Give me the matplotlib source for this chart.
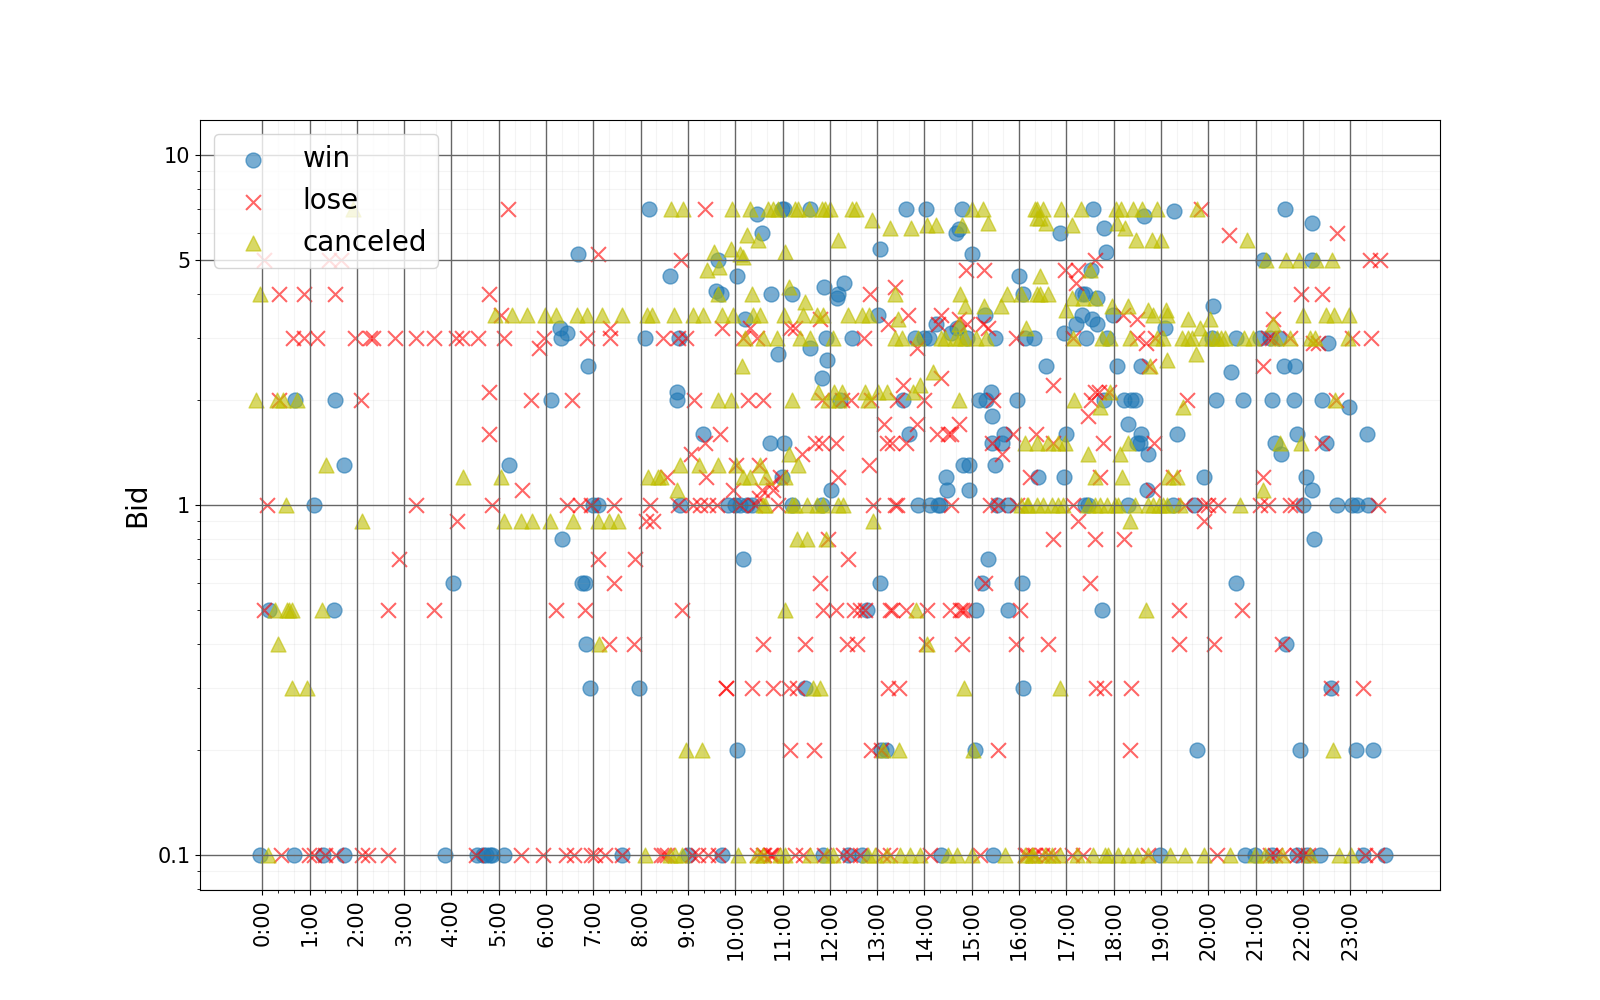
"""Bids over the hours of a day, split by auction outcome."""

import matplotlib
matplotlib.use("Agg")
import matplotlib.pyplot as plt
from matplotlib.ticker import NullFormatter

# Each *_bids entry is a bid level, each *_hours entry the hours of day seen at that level
win_bids = [7, 6.9, 6.8, 6.7, 6.4, 6.2, 6.15, 6.0, 5.4, 5.3, 5.2, 5.0, 4.7, 4.5, 4.3, 4.2, 4.08, 4.0, 3.9, 3.7,
            3.5, 3.4, 3.3, 3.2, 3.1, 3.0, 2.9, 2.8, 2.7, 2.6, 2.5, 2.4, 2.3, 2.1, 2.0, 1.9, 1.8, 1.7, 1.6, 1.5, 1.4,
            1.3, 1.2, 1.1, 1.0, 0.8, 0.7, 0.6, 0.5, 0.4, 0.3, 0.2, 0.1]
win_hours = [
    [8.18, 10.98, 11.02, 11.57, 13.6, 14.03, 14.8, 17.57, 21.63],
    [19.28],
    [10.45],
    [18.65],
    [22.2],
    [17.8],
    [14.73],
    [10.57, 14.67, 16.87],
    [13.05],
    [17.84],
    [15.0, 6.68],
    [9.64, 21.16, 22.19],
    [17.53],
    [8.63, 10.04, 16.0],
    [12.3],
    [11.88],
    [9.59],
    [9.7, 10.76, 11.2, 12.18, 16.09, 17.33, 17.4],
    [12.16, 17.64],
    [20.1],
    [13.02, 15.28, 17.34, 17.98],
    [10.21, 17.55],
    [14.24, 17.2, 17.65],
    [6.29, 14.68, 19.08],
    [6.45, 14.57, 16.96],
    [6.32, 8.09, 8.82, 11.92, 12.46, 13.8, 13.99, 14.1, 14.9, 15.49, 16.13, 16.31, 17.42, 17.85, 20.08, 20.58,
     21.09, 21.3, 21.5],
    [22.54],
    [11.57],
    [10.91],
    [11.94],
    [6.89, 16.58, 18.07, 18.57, 21.61, 21.84],
    [20.48],
    [11.83],
    [8.77, 15.41],
    [0.69, 1.54, 6.11, 8.77, 12.21, 13.55, 15.16, 15.31, 15.95, 17.8, 18.22, 18.36, 18.46, 20.17, 20.74,
     21.35, 21.82, 22.41],
    [22.98],
    [15.43],
    [18.31],
    [9.32, 13.68, 15.69, 17.0, 18.58, 19.33, 21.88, 23.35],
    [10.74, 11.02, 15.42, 15.65, 18.5, 18.56, 21.41, 22.49],
    [18.73, 21.54],
    [1.73, 5.22, 14.82, 14.95, 15.5],
    [10.98, 14.46, 16.41, 16.96, 19.92, 22.07],
    [12.03, 14.48, 14.95, 18.7, 22.2],
    [1.1, 7.0, 7.1, 8.83, 9.85, 9.99, 10.1, 10.24, 10.35, 11.2, 11.83, 13.87, 14.12, 14.29, 14.33, 15.53, 15.77,
     17.39, 17.46, 18.31, 19.26, 19.7, 22.0, 22.73, 23.03, 23.14, 23.38],
    [6.34, 22.24],
    [10.16, 15.35],
    [4.04, 6.77, 6.83, 13.05, 15.22, 16.07, 20.59],
    [0.14, 1.52, 12.79, 15.09, 15.77, 17.76],
    [6.85, 21.64],
    [6.93, 7.97, 11.47, 16.09, 22.6],
    [10.04, 13.09, 13.19, 15.07, 19.77, 21.95, 23.12, 23.49],
    [-0.04, 0.66, 1.29, 1.73, 3.87, 4.53, 4.67, 4.74, 4.81, 4.85, 5.12, 7.6, 9.0, 9.71, 11.86, 12.38, 12.69, 14.34,
     15.45, 18.99, 20.78, 20.99, 21.34, 21.87, 22.08, 22.36, 23.28, 23.74],
]

lose_bids = [7, 6, 5.9, 5.2, 5, 4.7, 4.3, 4.2, 4, 3.5, 3.4, 3.3, 3.2, 3, 2.9, 2.8, 2.5, 2.3, 2.2, 2.1, 2, 1.8, 1.7,
             1.6, 1.5, 1.4, 1.3, 1.2, 1.15, 1.1, 1.05, 1, 0.9, 0.8, 0.7, 0.6, 0.5, 0.4, 0.3, 0.2, 0.1]
lose_hours = [
    [5.2, 9.37, 19.85],
    [22.73],
    [20.44],
    [7.1],
    [0.04, 1.41, 1.66, 8.85, 17.6, 23.41, 23.64],
    [14.88, 15.26, 16.98, 17.25],
    [17.2],
    [13.38],
    [0.36, 0.89, 1.54, 4.8, 12.85, 21.96, 22.41],
    [5.04, 13.66, 14.36, 18.2],
    [11.79, 14.74, 18.5, 21.37],
    [13.23, 14.29, 14.89, 15.24],
    [7.36, 9.71, 10.31, 11.16, 11.26, 15.35],
    [0.64, 0.88, 1.15, 1.96, 2.28, 2.35, 2.81, 3.26, 3.62, 4.09, 4.23, 4.57, 5.11, 5.96, 6.86, 7.35, 8.48, 8.79, 8.95,
     10.17, 10.45, 12.72, 15.93, 17.14, 18.49, 18.87, 21.27, 21.34, 21.73, 23.03, 23.45],
    [18.69, 22.22, 22.33],
    [5.84, 13.85],
    [18.75, 21.16],
    [14.36],
    [13.55, 16.72],
    [4.8, 17.6, 17.7, 17.9],
    [0.35, 2.08, 5.68, 6.54, 9.13, 10.26, 10.59, 11.83, 12.25, 12.44, 12.87, 13.41, 13.99, 15.44, 17.53, 19.56, 22.7],
    [17.46],
    [13.15, 13.84, 14.72],
    [4.8, 9.68, 14.26, 14.5, 14.57, 15.88, 16.36],
    [9.35, 11.68, 11.83, 12.13, 13.2, 13.31, 13.6, 15.42, 16.72, 17.77, 18.86, 22.4],
    [9.06, 11.42, 15.64],
    [10.01, 10.51, 12.83],
    [8.56, 9.38, 10.95, 12.18, 16.23, 17.71, 19.26, 21.15],
    [10.75],
    [5.5, 9.96, 10.56, 10.8, 18.84],
    [10.5],
    [0.09, 3.24, 4.86, 6.45, 6.72, 6.96, 7.44, 8.2, 8.79, 9.11, 9.25, 9.43, 9.61, 10.1, 10.42, 10.91, 12.92, 13.38,
     13.41, 14.57, 15.38, 15.56, 15.95, 17.14, 19.5, 19.9, 19.99, 20.21, 21.09, 21.27, 21.73, 21.83, 23.58],
    [4.11, 8.11, 8.26, 17.25, 19.92],
    [11.97, 16.71, 17.61, 18.22],
    [2.9, 7.09, 7.89, 12.39],
    [7.44, 11.8, 15.28, 17.5],
    [0.04, 2.65, 3.64, 6.2, 6.83, 8.88, 11.85, 12.12, 12.5, 12.64, 12.74, 13.27, 13.32, 13.62, 14.05, 14.55, 14.75,
     14.8, 14.86, 16.02, 19.38, 20.72],
    [7.34, 7.86, 10.59, 11.48, 12.36, 12.57, 14.03, 14.79, 15.93, 16.62, 19.38, 20.13, 21.56],
    [9.8, 9.8, 10.35, 10.8, 11.14, 11.3, 13.23, 13.47, 17.63, 17.8, 18.37, 22.59, 23.28],
    [11.15, 11.67, 12.88, 13.09, 15.56, 18.35],
    [0.4, 0.99, 1.09, 1.33, 1.55, 2.1, 2.24, 2.66, 4.52, 5.46, 5.94, 6.43, 6.58, 6.96, 7.03, 7.25, 7.6, 8.44, 8.5, 8.55,
     9.08, 9.22, 9.43, 9.64, 10.45, 10.59, 10.6, 10.73, 10.75, 10.8, 11.26, 11.43, 11.87, 12.28, 12.42, 12.64, 13.13,
     13.27, 14.12, 15.17, 16.12, 16.16, 16.29, 16.33, 16.48, 16.62, 16.72, 17.11, 17.36, 18.73, 20.18, 21.3, 21.41,
     21.59, 21.87, 22.0, 22.11, 23.31, 23.56],
]

canceled_bids = [7, 6.6, 6.5, 6.4, 6.3, 6.2, 5.9, 5.7, 5.4, 5.3, 5.2, 5.1, 5, 4.8, 4.7, 4.5, 4.2, 4, 3.9, 3.8, 3.7, 3.6,
                 3.5, 3.4, 3.3, 3.2, 3, 2.7, 2.6, 2.5, 2.4, 2.2, 2.1, 2, 1.9, 1.5, 1.4, 1.3, 1.2, 1.1, 1, 0.9, 0.8,
                 0.5, 0.4, 0.3, 0.2, 0.1]
canceled_hours = [
    [1.92, 8.64, 8.9, 9.94, 10.31, 10.7, 10.8, 10.91, 11.26, 11.33, 11.56, 11.83, 11.9, 12.0, 12.46, 12.55, 15.0, 15.23,
     16.33, 16.37, 16.51, 16.88, 17.31, 18.06, 18.15, 18.4, 18.61, 18.91, 19.77],
    [16.37, 16.44],
    [12.9],
    [15.35, 16.58, 18.08],
    [14.06, 14.24, 14.79, 17.11],
    [13.27, 13.71, 18.24],
    [10.25],
    [10.49, 12.18, 18.47, 18.82, 19.0, 20.81],
    [9.92],
    [9.55, 11.05],
    [10.1],
    [10.16],
    [21.22, 21.64, 21.92, 22.28, 22.62],
    [9.66],
    [9.41, 17.51],
    [16.44],
    [11.14],
    [-0.04, 9.64, 10.36, 13.38, 14.75, 15.74, 16.05, 16.38, 16.44, 16.62],
    [17.11, 17.36, 17.6],
    [11.47],
    [14.86, 15.26, 15.62, 17.96, 18.31],
    [17.0, 18.73, 19.1],
    [4.92, 5.27, 5.59, 5.98, 6.2, 6.65, 6.86, 7.19, 7.61, 8.13, 8.23, 8.71, 9.11, 9.32, 9.71, 9.96, 10.38, 10.52, 11.02,
     11.44, 11.72, 11.86, 12.39, 12.67, 12.83, 18.84, 19.12, 22.0, 22.49, 22.66, 22.98],
    [13.45, 19.58, 20.04],
    [14.72, 21.37],
    [16.15, 19.82],
    [10.2, 10.59, 10.88, 11.37, 11.57, 12.07, 13.38, 13.52, 13.87, 14.36, 14.43, 14.65, 14.75, 14.86, 15.1, 15.31, 17.14,
     17.75, 17.92, 18.35, 18.91, 19.05, 19.45, 19.58, 19.65, 19.93, 20.07, 20.18, 20.28, 20.35, 20.75, 20.95, 21.44,
     21.73, 22.15, 22.26, 22.96],
    [19.75],
    [19.13],
    [10.15, 18.77],
    [14.19],
    [13.9],
    [11.75, 12.09, 12.25, 12.74, 13.02, 13.2, 13.76, 17.92],
    [-0.13, 0.32, 0.44, 0.73, 9.64, 9.92, 11.2, 11.97, 12.2, 12.81, 14.72, 17.17, 22.68],
    [17.71, 19.47],
    [16.12, 16.37, 16.62, 16.83, 16.97, 18.31, 21.52, 21.96],
    [11.14, 17.46, 18.13],
    [1.34, 8.83, 9.24, 9.63, 10.01, 10.52, 11.33],
    [4.25, 5.05, 8.16, 8.37, 8.44, 10.17, 10.31, 10.66, 11.05, 17.6, 18.17, 19.15, 19.33],
    [8.76, 21.16],
    [0.51, 10.59, 10.62, 11.19, 11.26, 11.51, 11.72, 11.86, 12.18, 12.28, 16.05, 16.16, 16.19, 16.37, 16.51, 16.69, 16.83,
     16.93, 17.46, 17.6, 17.71, 17.85, 18.03, 18.1, 18.45, 18.73, 18.84, 18.95, 19.05, 19.12, 19.4, 20.67],
    [2.11, 5.1, 5.46, 5.7, 6.08, 6.57, 7.1, 7.33, 7.53, 12.92, 18.35],
    [11.3, 11.51, 11.92],
    [0.27, 0.52, 0.56, 0.63, 1.27, 11.05, 13.82, 18.69],
    [0.34, 7.12, 14.05],
    [0.62, 0.95, 11.65, 11.79, 14.84, 16.86],
    [8.95, 9.29, 13.12, 13.47, 15.03, 22.64],
    [0.13, 8.09, 8.62, 8.72, 8.87, 10.06, 10.45, 10.59, 10.95, 11.05, 11.58, 11.93, 12.07, 12.81, 12.95, 13.2, 13.48, 13.69,
     13.9, 14.5, 14.68, 15.0, 15.7, 16.12, 16.27, 16.3, 16.55, 16.69, 16.86, 17.22, 17.57, 17.82, 17.89, 18.1, 18.31,
     18.49, 18.73, 19.19, 19.51, 19.9, 20.46, 20.99, 21.2, 21.55, 22.15, 22.77, 23.02],
]

hour_labels = [f"{h}:00" for h in range(24)]
bid_ticks = [0.1, 1, 5, 10]
bid_labels = ["0.1", "1", "5", "10"]


def flatten(levels, hours):
    """Turn per-level hour lists into matching x and y lists."""
    xs, ys = [], []
    for level, row in zip(levels, hours):
        xs.extend(row)
        ys.extend([level] * len(row))
    return xs, ys


fig, ax = plt.subplots(figsize=(16, 10), dpi=100)

x, y = flatten(win_bids, win_hours)
ax.scatter(x, y, s=115, marker="o", color="C0", alpha=0.6, label="win")
x, y = flatten(lose_bids, lose_hours)
ax.scatter(x, y, s=115, marker="x", color="r", alpha=0.6, label="lose")
x, y = flatten(canceled_bids, canceled_hours)
ax.scatter(x, y, s=115, marker="^", color="y", alpha=0.6, label="canceled")

ax.set_yscale("log")
ax.set_xlim(-1.317, 24.9)
ax.set_ylim(0.0794, 12.59)

ax.set_xticks(range(24))
ax.set_xticklabels(hour_labels, rotation=90, fontsize=15)
ax.set_xticks([h / 3 for h in range(72) if h % 3], minor=True)
ax.set_yticks(bid_ticks)
ax.set_yticklabels(bid_labels, fontsize=15)
ax.yaxis.set_minor_formatter(NullFormatter())
ax.set_ylabel("Bid", fontsize=20)

ax.grid(which="major", color="#666666", linestyle="-", linewidth=1)
ax.grid(which="minor", color="#999999", linestyle="-", alpha=0.1)

ax.legend(loc="upper left", fontsize=20)

plt.savefig("out.png", dpi=100)
